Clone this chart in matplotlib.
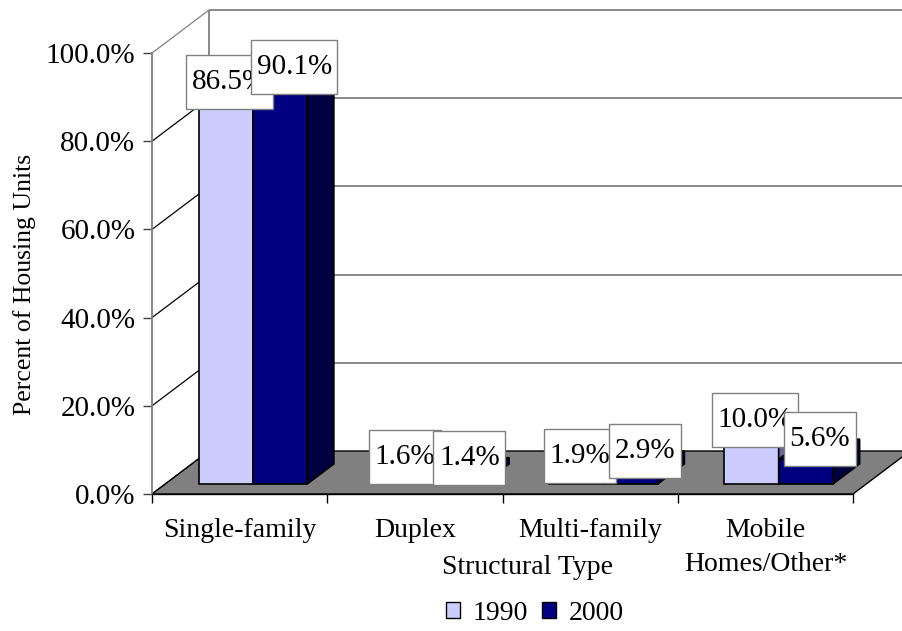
import matplotlib
matplotlib.use('Agg')
import matplotlib.pyplot as plt
from matplotlib.patches import Polygon, Patch
from matplotlib.path import Path

categories = ['Single-family', 'Duplex', 'Multi-family', 'Mobile\nHomes/Other*']
pct_1990 = [86.5, 1.6, 1.9, 10.0]
pct_2000 = [90.1, 1.4, 2.9, 5.6]
years = ['1990', '2000']
yticks = [0, 20, 40, 60, 80, 100]

plt.rcParams['font.family'] = ['Liberation Serif', 'DejaVu Serif']

# oblique "3d" projection: depth d (0 = front, 1 = back wall)
KX = 57 / 175.25   # category units per unit depth
KY = 43 / 4.41     # percent units per unit depth
D0, D1 = 0.233, 0.70   # bar front / back depth
BW = 0.31

def proj(x, v, d):
    return (x + d * KX, v + d * KY)

def label_box(x0, y0, width, height, mutation_size):
    # square box, more padding top/bottom than left/right
    px = 0.19 * mutation_size
    py = 0.48 * mutation_size
    x0, y0 = x0 - px, y0 - py
    x1, y1 = x0 + width + 2 * px, y0 + height + 2 * py
    return Path([(x0, y0), (x1, y0), (x1, y1), (x0, y1), (x0, y0)], closed=True)

fig = plt.figure(figsize=(9.02, 6.31), dpi=100)
ax = fig.add_axes([152 / 902, 137 / 631, 701 / 902, 441 / 631])
ax.set_xlim(0, 4)
ax.set_ylim(0, 100)
ax.patch.set_visible(False)

def poly(pts, fc, ec='black', lw=1.2, z=2):
    p = Polygon([proj(*q) for q in pts], closed=True, facecolor=fc,
                edgecolor=ec, linewidth=lw, zorder=z, clip_on=False)
    ax.add_patch(p)

def line(a, b, color, lw=1.0, z=1):
    pa, pb = proj(*a), proj(*b)
    ax.plot([pa[0], pb[0]], [pa[1], pb[1]], color=color, lw=lw,
            zorder=z, clip_on=False, solid_capstyle='butt')

# walls and gridlines
ncat = len(categories)
for t in yticks:
    if t > 0:
        line((0, t, 1), (ncat, t, 1), '#808080', lw=1.3)
    dc = '#808080' if t == 100 else 'black'
    line((0, t, 0), (0, t, 1), dc, lw=0.9)
line((0, 0, 1), (0, 100, 1), '#808080', lw=1.3)

# floor
poly([(0, 0, 0), (ncat, 0, 0), (ncat, 0, 1), (0, 0, 1)], '#808080', lw=1.0, z=1.5)

styles = [
    dict(front='#CCCCFF', side='#666699', top='#9999CC'),
    dict(front='#000080', side='#000040', top='#00006A'),
]
series = [pct_1990, pct_2000]
label_depth = [0.30, 0.48]

zl = 10
for i in range(ncat):
    for s, vals in enumerate(series):
        v = vals[i]
        xl = i + 0.5 - BW + s * BW
        xr = xl + BW
        st = styles[s]
        poly([(xl, 0, D0), (xr, 0, D0), (xr, v, D0), (xl, v, D0)], st['front'], z=3)
        poly([(xr, 0, D0), (xr, 0, D1), (xr, v, D1), (xr, v, D0)], st['side'], z=3)
        poly([(xl, v, D0), (xr, v, D0), (xr, v, D1), (xl, v, D1)], st['top'], z=3)
    for s, vals in enumerate(series):
        v = vals[i]
        xc = i + 0.5 - BW / 2 + s * BW
        lx = proj(xc, 0, label_depth[s])[0]
        ly = proj(xc, v, D1)[1]
        ax.text(lx, ly, f'{v:.1f}%', ha='center', va='center', fontsize=21,
                zorder=zl, clip_on=False,
                bbox=dict(boxstyle=label_box, facecolor='white',
                          edgecolor='#808080', linewidth=1.0))
        zl += 1

# axes styling
for sp in ['top', 'right']:
    ax.spines[sp].set_visible(False)
ax.spines['left'].set_color('#808080')
ax.spines['left'].set_linewidth(1.3)
ax.spines['left'].set_zorder(4)
ax.spines['bottom'].set_color('black')
ax.spines['bottom'].set_linewidth(1.0)
ax.spines['bottom'].set_zorder(4)

ax.set_yticks(yticks)
ax.set_yticklabels([f'{t:.1f}%' for t in yticks])
ax.tick_params(axis='y', length=6.5, width=1, color='#404040', pad=5.5, labelsize=21)

ax.set_xticks(range(ncat + 1))
ax.set_xticklabels([])
ax.set_xticks([i + 0.5 for i in range(ncat)], minor=True)
ax.set_xticklabels(categories, minor=True, fontsize=20, linespacing=1.5)
ax.tick_params(axis='x', which='major', length=6.5, width=1, color='black')
ax.tick_params(axis='x', which='minor', length=0, pad=17)

fig.text(25 / 902, 1 - 284 / 631, 'Percent of Housing Units', rotation=90,
         ha='center', va='center', fontsize=18.5)
fig.text(528 / 902, 1 - 568 / 631, 'Structural Type', ha='center', va='center',
         fontsize=20)

handles = [Patch(facecolor=styles[s]['front'], edgecolor='black', linewidth=1.0)
           for s in range(2)]
fig.legend(handles, years, loc='center', bbox_to_anchor=(535 / 902, 1 - 613 / 631),
           ncol=2, frameon=False, fontsize=20, handlelength=0.5, handleheight=0.5,
           handletextpad=0.45, columnspacing=0.5, borderpad=0)

fig.savefig('out.png', dpi=100)
